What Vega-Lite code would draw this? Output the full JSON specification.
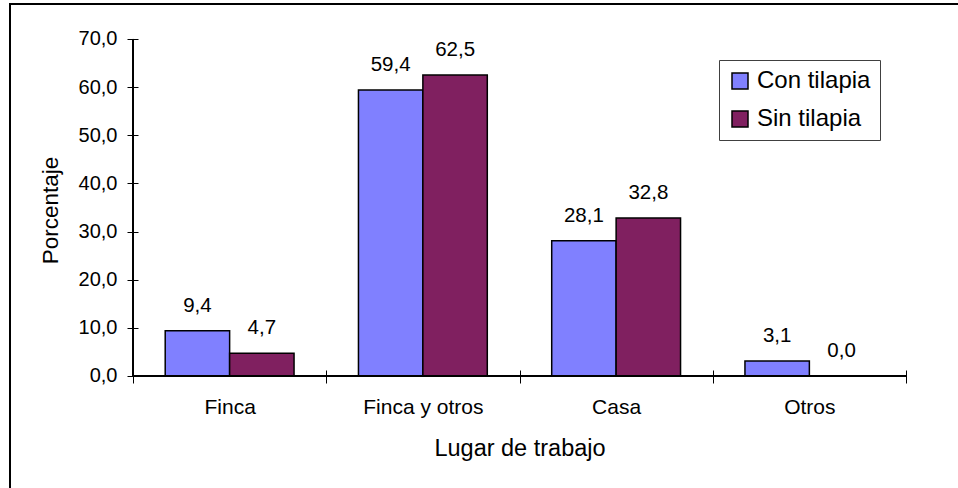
{
  "$schema": "https://vega.github.io/schema/vega-lite/v6.json",
  "width": 1019,
  "height": 500,
  "autosize": {"type": "none"},
  "padding": {"left": 10, "top": 4, "right": -71, "bottom": -16},
  "background": "white",
  "config": {
    "locale": {"number": {"decimal": ",", "thousands": ".", "grouping": [3], "currency": ["", " €"]}},
    "font": "Liberation Sans",
    "view": {"stroke": "black", "strokeWidth": 2},
    "axis": {"labelColor": "black", "titleColor": "black", "tickColor": "black", "labelFont": "Liberation Sans", "titleFont": "Liberation Sans", "titleFontWeight": "normal", "grid": false, "domain": false}
  },
  "data": {
    "values": [
      {"lugar": "Finca", "serie": "Con tilapia", "valor": 9.4},
      {"lugar": "Finca", "serie": "Sin tilapia", "valor": 4.7},
      {"lugar": "Finca y otros", "serie": "Con tilapia", "valor": 59.4},
      {"lugar": "Finca y otros", "serie": "Sin tilapia", "valor": 62.5},
      {"lugar": "Casa", "serie": "Con tilapia", "valor": 28.1},
      {"lugar": "Casa", "serie": "Sin tilapia", "valor": 32.8},
      {"lugar": "Otros", "serie": "Con tilapia", "valor": 3.1},
      {"lugar": "Otros", "serie": "Sin tilapia", "valor": 0.0}
    ]
  },
  "encoding": {
    "x": {
      "field": "lugar", "type": "nominal",
      "sort": ["Finca", "Finca y otros", "Casa", "Otros"],
      "scale": {"type": "band", "paddingInner": 0, "paddingOuter": 0.6365, "align": 0.5},
      "axis": {
        "orient": "bottom", "offset": -134, "tickBand": "extent", "tickSize": 13,
        "labelPadding": 13, "labelAngle": 0, "labelFontSize": 21,
        "title": "Lugar de trabajo", "titleFontSize": 23.5, "titleY": 85, "titleBaseline": "alphabetic"
      }
    },
    "y": {
      "field": "valor", "type": "quantitative", "stack": null,
      "scale": {"domain": [-26.588, 77.27], "nice": false, "zero": false},
      "axis": {
        "orient": "left",
        "values": [0, 10, 20, 30, 40, 50, 60, 70], "format": ",.1f",
        "offset": -128, "tickSize": 11, "labelPadding": 10,
        "labelFontSize": 20, "title": "Porcentaje", "titleFontSize": 22.5,
        "titleX": -88, "titleY": 206, "titleBaseline": "middle", "titleAngle": -90, "titleAlign": "center"
      }
    }
  },
  "layer": [
    {
      "mark": {"type": "bar", "stroke": "black", "strokeWidth": 1.5},
      "encoding": {
        "xOffset": {
          "field": "serie", "type": "nominal", "sort": ["Con tilapia", "Sin tilapia"],
          "scale": {"paddingInner": 0, "paddingOuter": 0.5}
        },
        "y2": {"datum": 0},
        "color": {
          "field": "serie", "type": "nominal",
          "scale": {"domain": ["Con tilapia", "Sin tilapia"], "range": ["#8080FF", "#802060"]},
          "legend": {
            "orient": "none", "legendX": 709, "legendY": 56, "title": null,
            "strokeColor": "#404040", "fillColor": "white", "padding": 9,
            "labelFontSize": 24, "labelColor": "black", "labelFont": "Liberation Sans",
            "symbolType": "square", "symbolSize": 256, "symbolStrokeColor": "black",
            "symbolStrokeWidth": 1.5, "symbolOpacity": 1, "rowPadding": 14, "labelOffset": 5
          }
        }
      }
    },
    {
      "mark": {"type": "text", "dy": -19, "baseline": "alphabetic", "fontSize": 20.5, "color": "black", "font": "Liberation Sans"},
      "encoding": {
        "xOffset": {
          "field": "serie", "type": "nominal", "sort": ["Con tilapia", "Sin tilapia"],
          "scale": {"paddingInner": 0, "paddingOuter": 0.5}
        },
        "text": {"field": "valor", "type": "quantitative", "format": ",.1f"}
      }
    },
    {
      "mark": {"type": "rule", "color": "black", "strokeWidth": 1},
      "encoding": {
        "x": {"datum": "Finca", "type": "nominal", "bandPosition": 0},
        "y": {"datum": 0, "type": "quantitative"},
        "y2": {"datum": 70}
      }
    },
    {
      "mark": {"type": "rule", "color": "black", "strokeWidth": 1},
      "encoding": {
        "x": {"datum": "Finca", "type": "nominal", "bandPosition": 0},
        "x2": {"datum": "Otros", "bandPosition": 1},
        "y": {"datum": 0, "type": "quantitative"}
      }
    }
  ]
}
